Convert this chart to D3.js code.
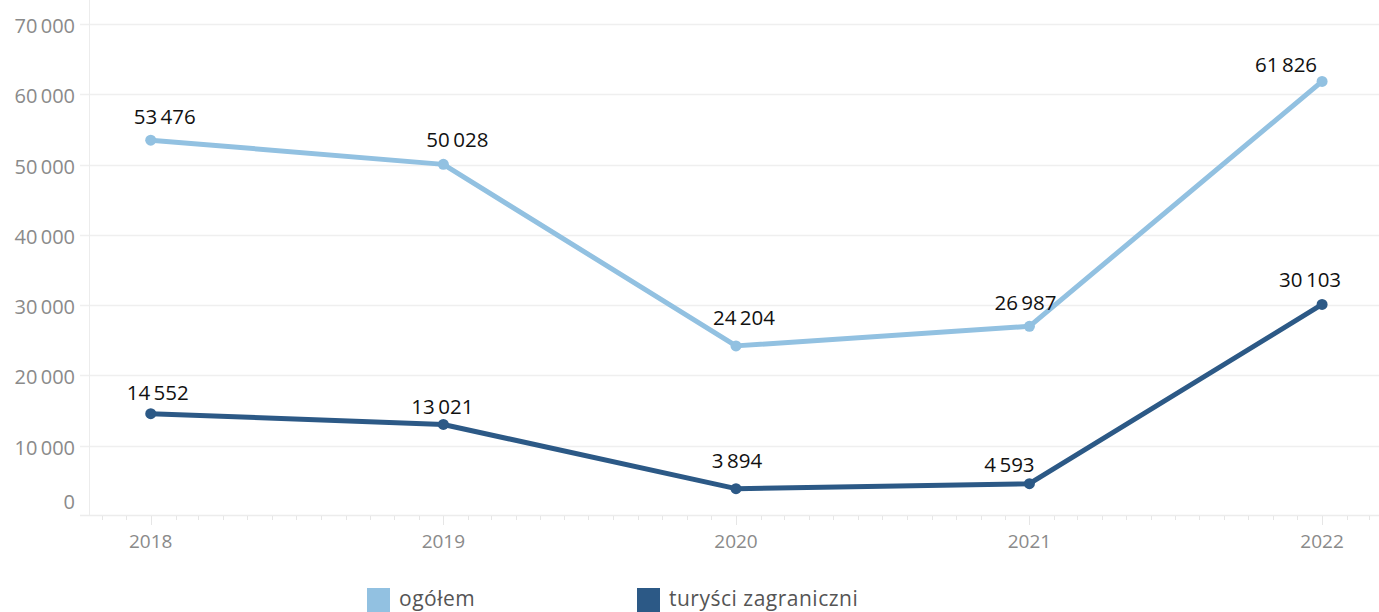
<!DOCTYPE html>
<html><head><meta charset="utf-8">
<script src="https://cdn.jsdelivr.net/npm/d3@7"></script>
<style>
body{margin:0;background:#fff;}
svg{display:block;font-family:"Open Sans",sans-serif;}
</style></head>
<body><svg id="c" width="1379" height="612"></svg>
<script>
const years = [2018, 2019, 2020, 2021, 2022];
const ogolem = [53476, 50028, 24204, 26987, 61826];
const zagraniczni = [14552, 13021, 3894, 4593, 30103];
const yTicks = [0, 10000, 20000, 30000, 40000, 50000, 60000, 70000];
const seriesNames = ["ogółem", "turyści zagraniczni"];
const seriesColors = ["#92c1e1", "#2c5986"];
// label nudges (layout only)
const labelDx = [[14, 14, 8, -4, -36], [7, -1, 1, -20, -12]];
const labelGap = [[16, 17, 21, 16, 9], [14, 10, 21, 12, 17]];

const svg = d3.select("#c");
const fmt = v => d3.format(",")(v).replace(/,/g, "\u2009");

const x = d3.scaleTime()
  .domain([new Date(2017, 9, 16), new Date(2022, 2, 13)])
  .range([89, 1379]);
const y = d3.scaleLinear().domain([0, 70000]).range([516, 24]);

// gridlines
svg.append("g").selectAll("line").data(yTicks.filter(d => d > 0)).join("line")
  .attr("x1", 80).attr("x2", 1379)
  .attr("y1", d => Math.round(y(d)) + 0.5).attr("y2", d => Math.round(y(d)) + 0.5)
  .attr("stroke", "#efefef").attr("stroke-width", 1.5);

// left axis line
svg.append("line").attr("x1", 89.5).attr("x2", 89.5).attr("y1", 0).attr("y2", 516)
  .attr("stroke", "#ececec").attr("stroke-width", 1);
// baseline
svg.append("line").attr("x1", 80).attr("x2", 1379).attr("y1", 515.5).attr("y2", 515.5)
  .attr("stroke", "#ececec").attr("stroke-width", 1.5);

// month ticks
const months = d3.timeMonth.range(new Date(2017, 10, 1), new Date(2022, 2, 13));
svg.append("g").selectAll("line").data(months).join("line")
  .attr("x1", d => Math.round(x(d)) + 0.5).attr("x2", d => Math.round(x(d)) + 0.5)
  .attr("y1", 516).attr("y2", d => d.getMonth() === 0 ? 525 : 520)
  .attr("stroke", "#e6e6e6").attr("stroke-width", 1);

// y labels
svg.append("g").selectAll("text").data(yTicks).join("text")
  .attr("x", 75).attr("y", d => d === 0 ? 502 : y(d) + 2)
  .attr("dy", "0.35em").attr("text-anchor", "end")
  .attr("font-size", 20).attr("font-weight", 400).attr("fill", "#8a8a8a")
  .text(d => fmt(d));

// x labels
svg.append("g").selectAll("text").data(years).join("text")
  .attr("x", d => x(new Date(d, 0, 1))).attr("y", 548)
  .attr("text-anchor", "middle")
  .attr("font-size", 19).attr("font-weight", 400).attr("fill", "#8a8a8a")
  .text(d => d);

const allSeries = [ogolem, zagraniczni];
const line = d3.line().x((d, i) => x(new Date(years[i], 0, 1))).y(d => y(d));

allSeries.forEach((vals, s) => {
  const g = svg.append("g");
  g.append("path").datum(vals).attr("d", line)
    .attr("fill", "none").attr("stroke", seriesColors[s]).attr("stroke-width", 5)
    .attr("stroke-linejoin", "round");
  g.selectAll("circle").data(vals).join("circle")
    .attr("cx", (d, i) => x(new Date(years[i], 0, 1))).attr("cy", d => y(d))
    .attr("r", 5.5).attr("fill", seriesColors[s]);
  g.selectAll("text").data(vals).join("text")
    .attr("x", (d, i) => x(new Date(years[i], 0, 1)) + labelDx[s][i])
    .attr("y", (d, i) => y(d) - labelGap[s][i])
    .attr("text-anchor", "middle").attr("font-size", 20.5).attr("fill", "#111")
    .text(d => fmt(d));
});

// legend
const legX = [367, 637];
const lg = svg.append("g").selectAll("g").data(seriesNames).join("g")
  .attr("transform", (d, i) => `translate(${legX[i]},588)`);
lg.append("rect").attr("width", 23).attr("height", 24).attr("fill", (d, i) => seriesColors[i]);
lg.append("text").attr("x", 32).attr("y", 18).attr("font-size", 21)
  .attr("letter-spacing", 0.5)
  .attr("font-weight", 400).attr("fill", "#555").text(d => d);
</script></body></html>
